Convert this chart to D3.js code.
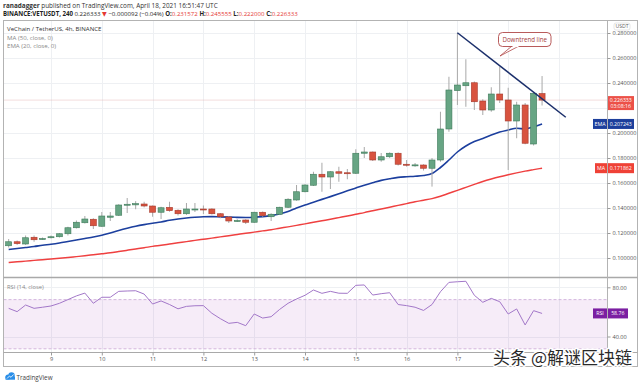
<!DOCTYPE html>
<html><head><meta charset="utf-8">
<script src="https://cdn.jsdelivr.net/npm/d3@7/dist/d3.min.js"></script>
<style>
body{margin:0;background:#fff}
svg{display:block;font-family:"Open Sans","DejaVu Sans",sans-serif}
</style>
</head><body>
<svg id="c" width="640" height="383"></svg>
<script>
// ---------- DATA ----------
const startTime = Date.UTC(2021, 3, 8, 4); // first 4h candle: Apr 8 04:00 UTC
const opens  = [0.1098,0.1130,0.1112,0.1166,0.1152,0.1162,0.1170,0.1194,0.1242,0.1282,0.1310,0.1254,0.1326,0.1342,0.1424,0.1425,
                0.1432,0.1416,0.1366,0.1405,0.1382,0.1354,0.1390,0.1392,0.1392,0.1354,0.1328,0.1294,0.1304,0.1286,0.1366,0.1330,
                0.1350,0.1406,0.1464,0.1530,0.1582,0.1670,0.1648,0.1690,0.1682,0.1678,0.1838,0.1848,0.1784,0.1810,0.1838,0.1750,
                0.1742,0.1744,0.1718,0.1784,0.2032,0.2339,0.2378,0.2402,0.2256,0.2184,0.2312,0.2264,0.2096,0.2224,0.1912,0.231572];
const highs  = [0.1152,0.1140,0.1180,0.1180,0.1164,0.1180,0.1200,0.1250,0.1300,0.1336,0.1318,0.1368,0.1368,0.1430,0.1480,0.1455,
                0.1450,0.1420,0.1410,0.1450,0.1390,0.1440,0.1440,0.1420,0.1398,0.1360,0.1335,0.1310,0.1310,0.1370,0.1372,0.1358,
                0.1410,0.1478,0.1584,0.1590,0.1690,0.1762,0.1695,0.1730,0.1712,0.1870,0.1888,0.1852,0.1840,0.1845,0.1845,0.1784,
                0.1760,0.1750,0.1800,0.2170,0.2450,0.2802,0.2590,0.2412,0.2270,0.2366,0.2530,0.2362,0.2250,0.2240,0.2330,0.245555];
const lows   = [0.1084,0.1105,0.1105,0.1130,0.1146,0.1156,0.1164,0.1180,0.1236,0.1276,0.1232,0.1250,0.1296,0.1336,0.1360,0.1390,
                0.1405,0.1330,0.1312,0.1370,0.1340,0.1345,0.1368,0.1352,0.1348,0.1318,0.1280,0.1288,0.1272,0.1280,0.1330,0.1296,
                0.1345,0.1400,0.1458,0.1525,0.1576,0.1530,0.1552,0.1610,0.1630,0.1672,0.1800,0.1776,0.1770,0.1800,0.1740,0.1731,
                0.1730,0.1700,0.1571,0.1770,0.2010,0.2224,0.2210,0.2184,0.2144,0.2170,0.2240,0.1704,0.1958,0.1910,0.1900,0.222000];
const closes = [0.1130,0.1115,0.1162,0.1146,0.1156,0.1170,0.1194,0.1242,0.1286,0.1312,0.1258,0.1336,0.1336,0.1424,0.1430,0.1435,
                0.1416,0.1366,0.1402,0.1379,0.1354,0.1392,0.1392,0.1389,0.1354,0.1330,0.1296,0.1300,0.1286,0.1366,0.1339,0.1350,
                0.1406,0.1470,0.1530,0.1584,0.1670,0.1648,0.1690,0.1678,0.1680,0.1838,0.1848,0.1784,0.1810,0.1838,0.1750,0.1748,
                0.1745,0.1718,0.1784,0.2032,0.2344,0.2384,0.2402,0.2250,0.2184,0.2312,0.2264,0.2096,0.2224,0.1918,0.2318,0.226333];
const ema20  = [0.1068,0.1076,0.1084,0.1092,0.1102,0.1110,0.1120,0.1132,0.1144,0.1156,0.1168,0.1182,0.1200,0.1220,0.1238,0.1254,
                0.1267,0.1278,0.1288,0.1302,0.1312,0.1320,0.1326,0.1330,0.1331,0.1329,0.1327,0.1325,0.1324,0.1326,0.1331,0.1339,
                0.1352,0.1372,0.1400,0.1424,0.1446,0.1469,0.1491,0.1514,0.1538,0.1560,0.1582,0.1602,0.1621,0.1634,0.1645,0.1650,
                0.1654,0.1660,0.1676,0.1724,0.1784,0.1848,0.1896,0.1932,0.1956,0.1984,0.2008,0.2024,0.2038,0.2032,0.2050,0.207243];
const ma50   = [0.0964,0.0970,0.0975,0.0981,0.0986,0.0992,0.0998,0.1004,0.1011,0.1018,0.1026,0.1034,0.1042,0.1052,0.1062,0.1072,
                0.1082,0.1093,0.1102,0.1112,0.1122,0.1131,0.1141,0.1150,0.1159,0.1169,0.1178,0.1188,0.1198,0.1207,0.1217,0.1226,
                0.1238,0.1249,0.1261,0.1273,0.1286,0.1298,0.1310,0.1323,0.1336,0.1350,0.1363,0.1378,0.1392,0.1406,0.1421,0.1435,
                0.1450,0.1462,0.1475,0.1494,0.1518,0.1541,0.1565,0.1589,0.1612,0.1632,0.1650,0.1666,0.1681,0.1695,0.1707,0.171862];
const rsi14  = [62.9,60.2,65.6,62.9,63.8,64.8,67.0,70.0,73.0,75.3,67.0,71.9,71.9,76.7,77.0,77.2,
                74.5,66.4,68.9,66.0,62.5,64.5,65.0,65.1,58.9,54.5,50.7,51.5,48.8,58.3,55.0,56.1,
                62.0,67.0,70.5,73.5,77.8,75.1,76.7,75.2,75.1,81.6,81.9,73.7,74.8,75.6,66.0,65.1,
                63.8,61.2,66.0,76.4,84.0,84.5,84.9,73.5,67.8,71.0,68.3,58.3,62.4,49.4,61.0,58.76];
const priceGrid = [0.10,0.12,0.14,0.16,0.18,0.20,0.22,0.24,0.26,0.28];
const priceLabels = [0.10,0.12,0.14,0.16,0.18,0.20,0.24,0.26,0.28]; // 0.22 is hidden under the last-price tag
const rsiTicks = [40, 80];
const rsiBand = [30, 70];
const gridDays = [9,10,11,12,13,14,15,16,17,18,19];
const labelDays = [9,10,11,12,13,14,15,16,17]; // 18, 19 hidden under the watermark
const trendLine = [[53, 0.2802], [65.8, 0.2126]]; // [candle index, price]
const lastPrice = 0.226333;

// ---------- LAYOUT ----------
const L = 3.5, R = 607.5, OUTR = 637.5;
const mainTop = 20.5, mainBot = 277.5, rsiTop = 278.5, rsiBot = 352.5, axBot = 366.5;
const svg = d3.select("#c");
svg.append("rect").attr("width",640).attr("height",383).attr("fill","#fff");

const H4 = 4*3600*1000;
const x = d3.scaleUtc().domain([Date.UTC(2021,3,9), Date.UTC(2021,3,17)]).range([51, 457.4]);
const xi = i => x(new Date(startTime + i*H4));
const y = d3.scaleLinear().domain([0.10, 0.28]).range([258, 33]);
const yr = d3.scaleLinear().domain([40, 80]).range([336.5, 287.3]);

const defs = svg.append("defs");
defs.append("clipPath").attr("id","cm").append("rect").attr("x",L).attr("y",mainTop).attr("width",R-L).attr("height",mainBot-mainTop);
defs.append("clipPath").attr("id","cr").append("rect").attr("x",L).attr("y",rsiTop).attr("width",R-L).attr("height",rsiBot-rsiTop);

// grid
const dayDate = d => new Date(Date.UTC(2021,3,d));
const grid = svg.append("g").attr("stroke","#eef0f3").attr("stroke-width",1);
gridDays.forEach(d => {
  const gx = Math.round(x(dayDate(d))) + 0.5;
  grid.append("line").attr("x1",gx).attr("x2",gx).attr("y1",mainTop).attr("y2",rsiBot);
});
priceGrid.forEach(p => {
  const gy = Math.round(y(p)) + 0.5;
  grid.append("line").attr("x1",L).attr("x2",R).attr("y1",gy).attr("y2",gy);
});
rsiTicks.forEach(v => {
  const gy = Math.round(yr(v)) + 0.5;
  grid.append("line").attr("x1",L).attr("x2",R).attr("y1",gy).attr("y2",gy);
});

// RSI band
svg.append("rect").attr("x",L).attr("width",R-L)
  .attr("y",yr(rsiBand[1])).attr("height",yr(rsiBand[0])-yr(rsiBand[1]))
  .attr("fill","#9c27b0").attr("fill-opacity",0.09).attr("clip-path","url(#cr)");
rsiBand.forEach(v => {
  svg.append("line").attr("x1",L).attr("x2",R).attr("y1",yr(v)).attr("y2",yr(v))
    .attr("stroke","#c9a6d6").attr("stroke-dasharray","3,2").attr("stroke-width",0.8);
});

// main panel content
const gm = svg.append("g").attr("clip-path","url(#cm)");
gm.append("line").attr("x1",L).attr("x2",R).attr("y1",y(lastPrice)).attr("y2",y(lastPrice))
  .attr("stroke","#e0a8a8").attr("stroke-width",0.8).attr("stroke-dasharray","1,1");

const lineGen = arr => d3.line().x((d,i)=>xi(i)).y(d=>y(d)).curve(d3.curveMonotoneX)(arr);
gm.append("path").attr("d", lineGen(ma50)).attr("fill","none").attr("stroke","#ef4040").attr("stroke-width",1.5);
gm.append("path").attr("d", lineGen(ema20)).attr("fill","none").attr("stroke","#1c3f9e").attr("stroke-width",1.6);

// candles
const bw = 6;
const cg = gm.append("g");
opens.forEach((o, i) => {
  const c = closes[i], up = c >= o;
  const cx = xi(i);
  cg.append("line").attr("x1",cx).attr("x2",cx).attr("y1",y(highs[i])).attr("y2",y(lows[i]))
    .attr("stroke","#a8a8a8").attr("stroke-width",1);
  const top = y(Math.max(o,c)), bot = y(Math.min(o,c));
  cg.append("rect").attr("x",cx-bw/2).attr("width",bw).attr("y",top).attr("height",Math.max(1,bot-top))
    .attr("fill", up ? "#67a584" : "#d8533f")
    .attr("stroke", up ? "#3e7a5a" : "#a63a2c").attr("stroke-width",0.6);
});

// trend line
gm.append("line")
  .attr("x1",xi(trendLine[0][0])).attr("y1",y(trendLine[0][1]))
  .attr("x2",xi(trendLine[1][0])).attr("y2",y(trendLine[1][1]))
  .attr("stroke","#1b2f6b").attr("stroke-width",1.5);

// callout
const co = svg.append("g");
co.append("path").attr("d","M512,46 L500,56 L519,46").attr("fill","#fff").attr("stroke","#b04848").attr("stroke-width",0.8);
co.append("rect").attr("x",498.5).attr("y",32.5).attr("width",52.5).attr("height",14).attr("rx",4)
  .attr("fill","#fff").attr("stroke","#b04848").attr("stroke-width",0.9);
co.append("line").attr("x1",512.5).attr("x2",518.5).attr("y1",46.5).attr("y2",46.5).attr("stroke","#fff").attr("stroke-width",1.2);
co.append("text").attr("x",524.7).attr("y",42).attr("text-anchor","middle").attr("font-size",6.2)
  .attr("fill","#a53b3b").text("Downtrend line");

// RSI line
const gr = svg.append("g").attr("clip-path","url(#cr)");
gr.append("path").attr("d", d3.line().x((d,i)=>xi(i)).y(d=>yr(d))(rsi14))
  .attr("fill","none").attr("stroke","#a277c8").attr("stroke-width",1);

// frames
const fr = svg.append("g").attr("fill","none").attr("stroke","#b3b3b3");
fr.append("rect").attr("x",L).attr("y",mainTop).attr("width",OUTR-L).attr("height",axBot-mainTop);
fr.append("line").attr("x1",L).attr("x2",OUTR).attr("y1",mainBot).attr("y2",mainBot).attr("stroke-width",1.5).attr("stroke","#a9a9a9");
fr.append("line").attr("x1",L).attr("x2",OUTR).attr("y1",rsiBot).attr("y2",rsiBot).attr("stroke-width",1.2).attr("stroke","#a9a9a9");
fr.append("line").attr("x1",R).attr("x2",R).attr("y1",mainTop).attr("y2",axBot);

// axes
const axStyle = g => {
  g.select(".domain").remove();
  g.selectAll("line").attr("stroke","#9a9a9a");
  g.selectAll("text").attr("fill","#555").attr("font-size",5.6).attr("font-family","'Open Sans','DejaVu Sans',sans-serif");
};
svg.append("g").attr("transform",`translate(${R},0)`)
  .call(d3.axisRight(y).tickValues(priceLabels).tickFormat(d3.format(".6f")).tickSize(3).tickPadding(2))
  .call(axStyle);
svg.append("g").attr("transform",`translate(${R},0)`)
  .call(d3.axisRight(yr).tickValues(rsiTicks).tickFormat(d3.format(".2f")).tickSize(3).tickPadding(2))
  .call(axStyle);
svg.append("g").attr("transform",`translate(0,${rsiBot})`)
  .call(d3.axisBottom(x).tickValues(labelDays.map(dayDate)).tickFormat(d => d.getUTCDate()).tickSize(3).tickPadding(2))
  .call(axStyle);

// USDT tag
svg.append("rect").attr("x",614).attr("y",23).attr("width",16).attr("height",7).attr("rx",2)
  .attr("fill","#fff").attr("stroke","#ccc").attr("stroke-width",0.5);
svg.append("text").attr("x",622).attr("y",28.2).attr("text-anchor","middle").attr("font-size",5.2).attr("fill","#666").text("USDT");

// value tags
function tag(yv, label, value, color, x0, x1, two) {
  const g = svg.append("g");
  const h = two ? 14 : 10;
  const top = yv - (two ? 4 : h/2);
  if (label) {
    g.append("rect").attr("x",x0).attr("y",top).attr("width",R-0.5-x0).attr("height",h).attr("fill",color);
    g.append("text").attr("x",(x0+R-0.5)/2).attr("y",top+h/2+2).attr("text-anchor","middle")
      .attr("font-size",5.3).attr("fill","#fff").text(label);
  }
  g.append("rect").attr("x",R+0.5).attr("y",top).attr("width",x1-R-0.5).attr("height",h).attr("fill",color);
  g.append("text").attr("x",(R+x1)/2).attr("y",two ? top+5.7 : top+h/2+2).attr("text-anchor","middle")
    .attr("font-size",5.2).attr("fill","#fff").text(value);
  if (two) g.append("text").attr("x",(R+x1)/2).attr("y",top+12.3).attr("text-anchor","middle")
    .attr("font-size",5.2).attr("fill","#fff").text(two);
}
tag(y(lastPrice), null, d3.format(".6f")(lastPrice), "#ec5148", 0, 634, "03:08:16");
tag(y(ema20[ema20.length-1]), "EMA", d3.format(".6f")(ema20[ema20.length-1]), "#1d3f9c", 593, 634);
tag(y(ma50[ma50.length-1]), "MA", d3.format(".6f")(ma50[ma50.length-1]), "#ef4136", 595, 634);
tag(yr(rsi14[rsi14.length-1]), "RSI", d3.format(".2f")(rsi14[rsi14.length-1]), "#7b1fa2", 593, 628);

// header
const hd = svg.append("g").attr("font-size",6.4);
const t1 = hd.append("text").attr("x",3).attr("y",7.5).attr("fill","#333");
t1.append("tspan").attr("font-weight","bold").text("ranadagger");
t1.append("tspan").text(" published on TradingView.com, April 18, 2021 16:51:47 UTC");
const t2 = hd.append("text").attr("x",3).attr("y",16.3).attr("fill","#222").attr("font-weight","bold").attr("font-size",6.1);
t2.append("tspan").text("BINANCE:VETUSDT, 240 ");
t2.append("tspan").attr("font-weight","normal").text("0.226333 ");
t2.append("tspan").attr("fill","#e53935").text("▼ ");
t2.append("tspan").attr("font-weight","normal").text("−0.000092 (−0.04%) ");
[["O:",opens],["H:",highs],["L:",lows],["C:",closes]].forEach(([k,arr]) => {
  t2.append("tspan").text(k);
  t2.append("tspan").attr("font-weight","normal").attr("fill","#e53935").text(d3.format(".6f")(arr[arr.length-1]) + " ");
});

const lg = svg.append("g").attr("font-size",6.1);
lg.append("text").attr("x",7).attr("y",30.5).attr("fill","#333").text("VeChain / TetherUS, 4h, BINANCE");
lg.append("text").attr("x",7).attr("y",39.5).attr("fill","#888").text("MA (50, close, 0)");
lg.append("text").attr("x",7).attr("y",47.5).attr("fill","#888").text("EMA (20, close, 0)");
svg.append("text").attr("x",7).attr("y",289).attr("font-size",5.8).attr("fill","#888").text("RSI (14, close)");

// TradingView logo
const lgo = svg.append("g");
lgo.append("circle").attr("cx",8).attr("cy",377).attr("r",2.6).attr("fill","#2a8ee8");
lgo.append("circle").attr("cx",11.5).attr("cy",375.5).attr("r",3.2).attr("fill","#2a8ee8");
lgo.append("rect").attr("x",5.5).attr("y",376.5).attr("width",9.5).attr("height",3.2).attr("fill","#2a8ee8");
lgo.append("path").attr("d","M7,378.5 L9.5,376 L11,377.3 L13.5,374.5").attr("stroke","#fff").attr("stroke-width",0.8).attr("fill","none");
svg.append("text").attr("x",16.5).attr("y",379.5).attr("font-size",6.3).attr("fill","#444").text("TradingView");

// watermark
svg.append("text").attr("x",632).attr("y",364).attr("text-anchor","end")
  .attr("font-family","'Noto Sans CJK SC',sans-serif").attr("font-size",17)
  .attr("fill","#2a2a2a").attr("stroke","#fff").attr("stroke-width",3).attr("paint-order","stroke")
  .attr("stroke-linejoin","round").text("头条 @解谜区块链");
</script>
</body></html>
